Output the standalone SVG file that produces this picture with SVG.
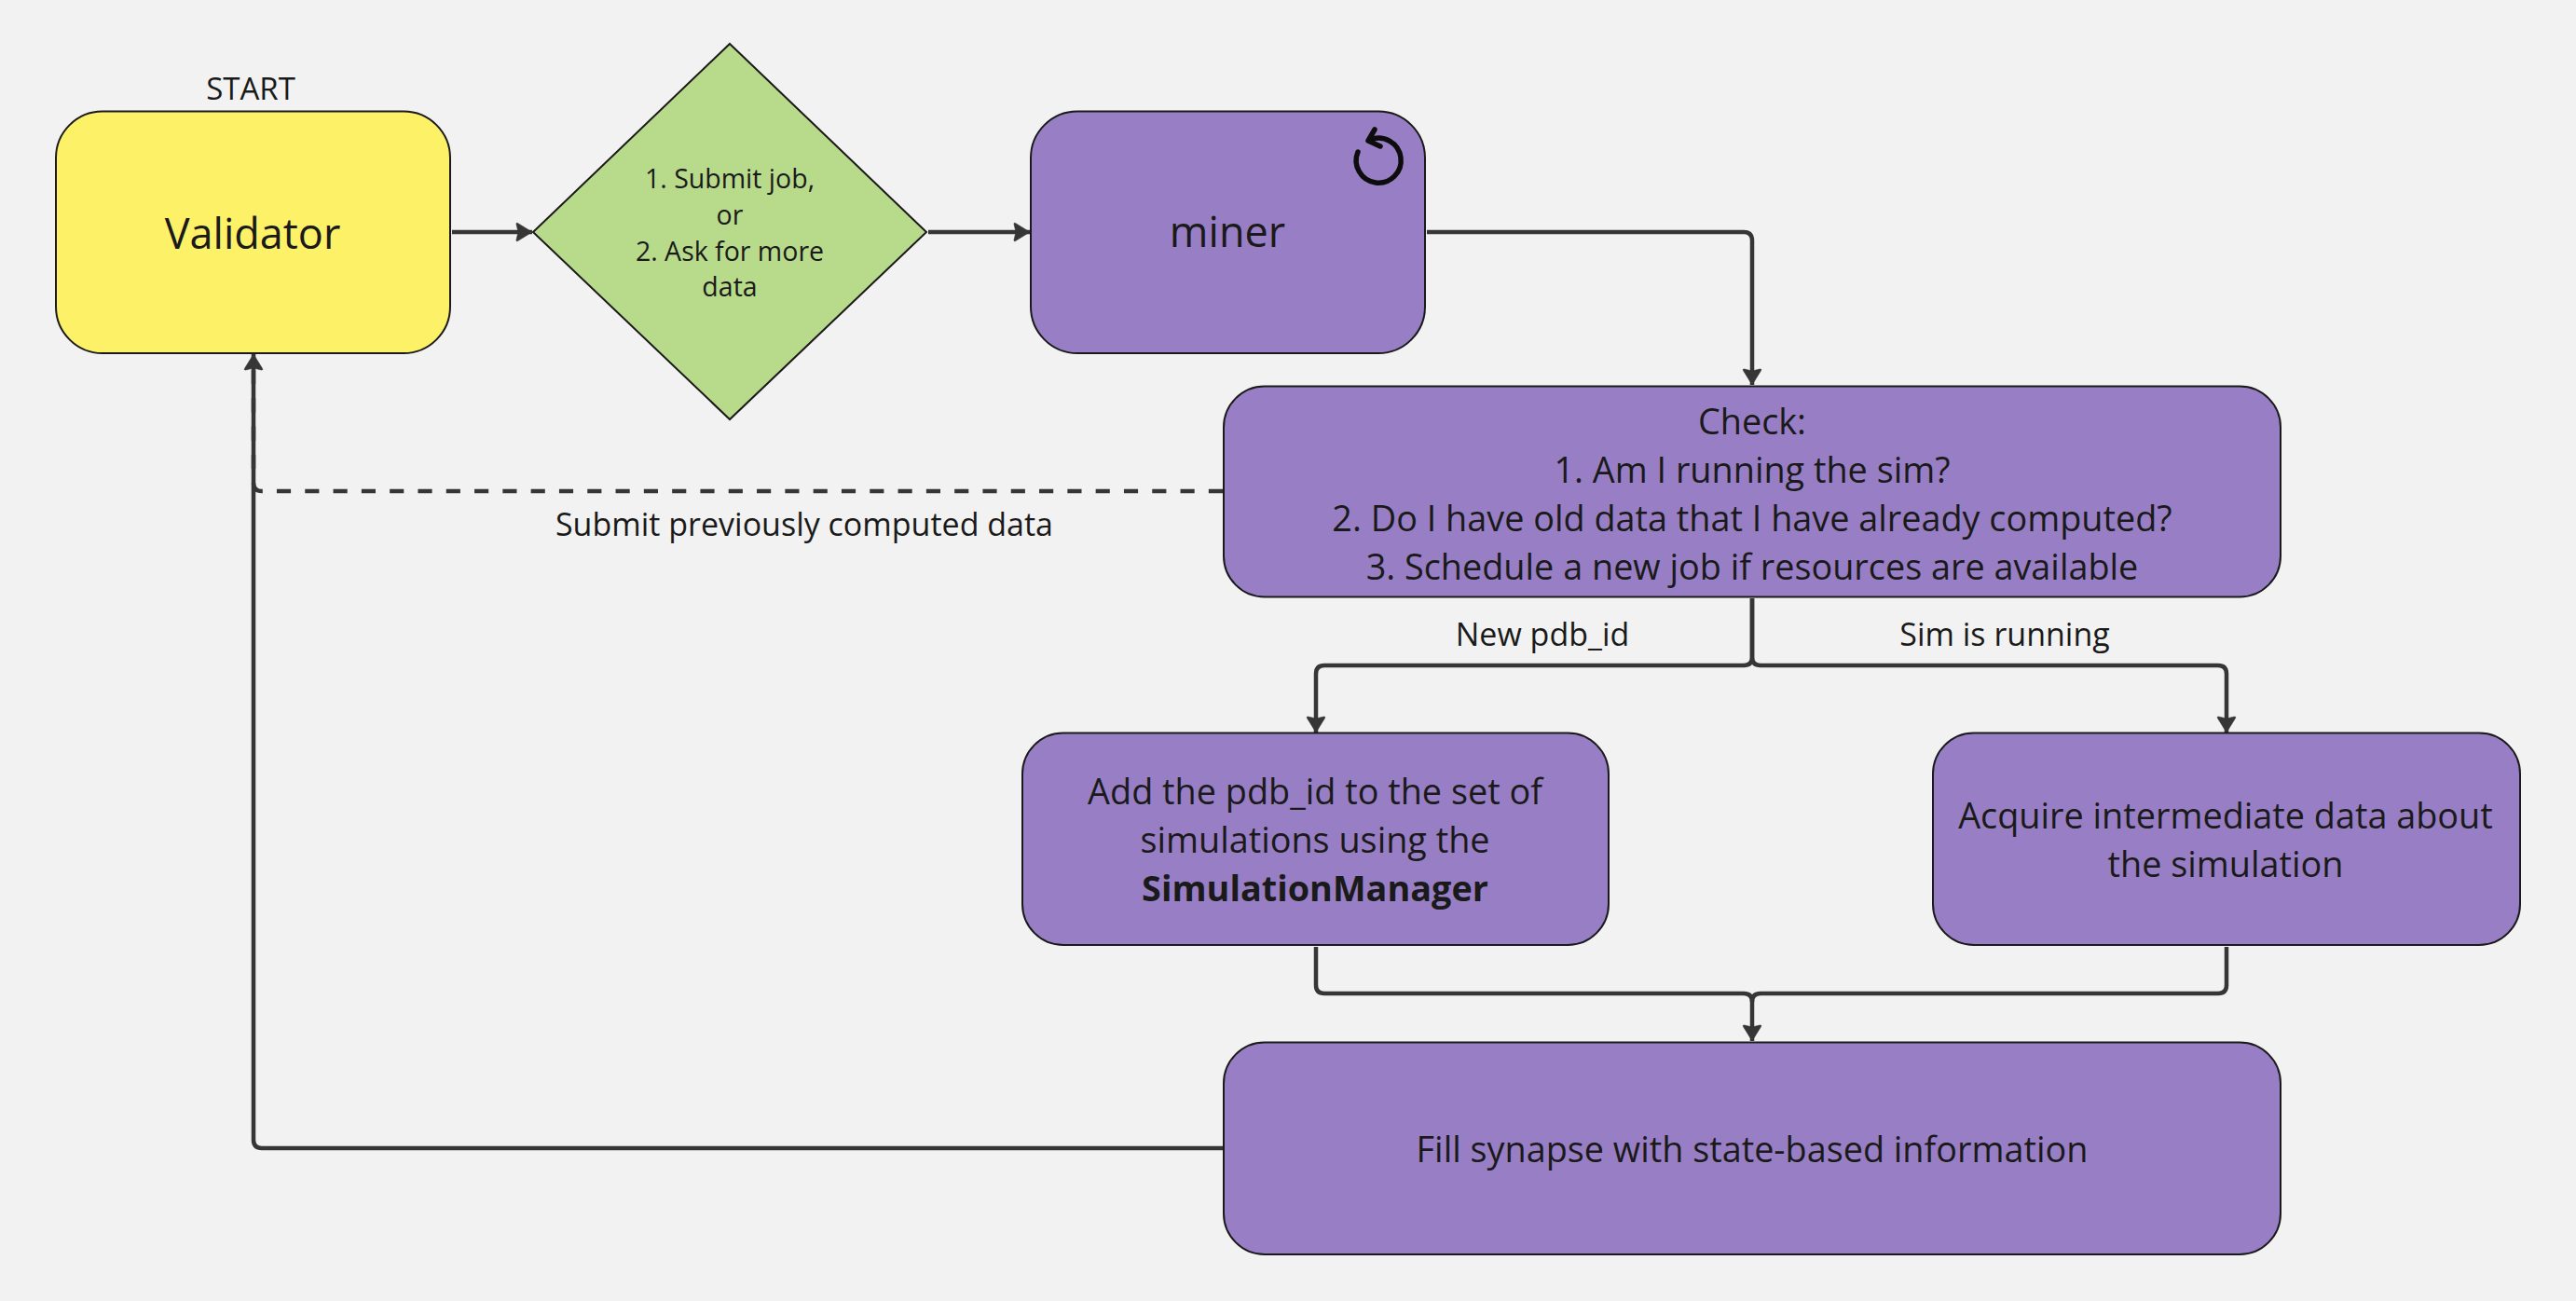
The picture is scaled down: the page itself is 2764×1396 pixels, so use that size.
<svg xmlns="http://www.w3.org/2000/svg" width="2764" height="1396" viewBox="0 0 2764 1396">
<defs>
<marker id="arrow" markerUnits="userSpaceOnUse" markerWidth="24" markerHeight="24" refX="20" refY="12" orient="auto">
<path d="M20 12 L4.5 2.4 Q2.6 1.6 3 3.6 L5 12 L3 20.4 Q2.6 22.4 4.5 21.6 Z" fill="#363636" stroke="#363636" stroke-width="0.6" stroke-linejoin="round"/>
</marker>
</defs>
<style>
text{font-family:"Open Sans","Noto Sans",sans-serif;fill:#1a1a1a;text-anchor:middle}
.n{stroke:#1a1a1a;stroke-width:2}
.p{fill:#987ec5}
.c{fill:none;stroke:#363636;stroke-width:4.5;stroke-linejoin:round}
.a{marker-end:url(#arrow)}
.t38{font-size:37.8px}.t34{font-size:34px}.t33{font-size:33px}.t28{font-size:28.5px}.t45{font-size:45px}
</style>
<rect width="2764" height="1396" fill="#f2f2f2"/>
<g id="connectors">
<path class="c a" d="M485 249 H571"/>
<path class="c a" d="M996 249 H1105"/>
<path class="c a" d="M1531 249 H1871 Q1880 249 1880 258 V413"/>
<path class="c" stroke-dasharray="15.15 15.15" d="M1312 527 H281 Q272 527 272 518 V382"/>
<path class="c a" d="M1312 1232 H281 Q272 1232 272 1223 V380"/>
<path class="c a" d="M1880 642 V705 Q1880 714 1871 714 H1421 Q1412 714 1412 723 V786"/>
<path class="c a" d="M1880 642 V705 Q1880 714 1889 714 H2380 Q2389 714 2389 723 V786"/>
<path class="c" d="M1412 1016 V1057 Q1412 1066 1421 1066 H1871 Q1880 1066 1880 1075"/>
<path class="c" d="M2389 1016 V1057 Q2389 1066 2380 1066 H1889 Q1880 1066 1880 1075"/>
<path class="c a" d="M1880 1075 V1117"/>
</g>
<g id="start-label"><text class="t33" x="269" y="107">START</text></g>
<g id="validator">
<rect class="n" x="60" y="119.500" width="423" height="259.500" rx="50" ry="50" fill="#fdf168"/>
<text class="t45" x="271" y="267">Validator</text>
</g>
<g id="decision">
<polygon class="n" points="783,47 994,249 783,450 572,249" fill="#b8da8b"/>
<text class="t28" x="783" y="202">1. Submit job,</text>
<text class="t28" x="783" y="241">or</text>
<text class="t28" x="783" y="280">2. Ask for more</text>
<text class="t28" x="783" y="318">data</text>
</g>
<g id="miner">
<rect class="n p" x="1106" y="119.500" width="423" height="259.500" rx="50" ry="50"/>
<text class="t45" x="1317" y="265">miner</text>
<g fill="none" stroke="#0d0d0d" stroke-width="5.5" stroke-linecap="round" stroke-linejoin="round">
<path d="M1457 163 A24 24 0 1 0 1470 150"/>
<path d="M1475 139 L1468 151 L1481 157"/>
</g>
</g>
<g id="check">
<rect class="n p" x="1313" y="414.500" width="1134" height="226" rx="44" ry="44"/>
<text class="t38" x="1880" y="466">Check:</text>
<text class="t38" x="1880" y="518">1. Am I running the sim?</text>
<text class="t38" x="1880" y="570">2. Do I have old data that I have already computed?</text>
<text class="t38" x="1880" y="622">3. Schedule a new job if resources are available</text>
</g>
<g id="label-submit"><text class="t34" x="863" y="575">Submit previously computed data</text></g>
<g id="label-new"><text class="t34" x="1655" y="693">New pdb_id</text></g>
<g id="label-running"><text class="t34" x="2151" y="693">Sim is running</text></g>
<g id="add">
<rect class="n p" x="1097" y="786.500" width="629" height="227.500" rx="44" ry="44"/>
<text class="t38" x="1411" y="863">Add the pdb_id to the set of</text>
<text class="t38" x="1411" y="915">simulations using the</text>
<text class="t38" x="1411" y="967" font-weight="700">SimulationManager</text>
</g>
<g id="acquire">
<rect class="n p" x="2074" y="786.500" width="630" height="227.500" rx="44" ry="44"/>
<text class="t38" x="2388" y="889">Acquire intermediate data about</text>
<text class="t38" x="2388" y="941">the simulation</text>
</g>
<g id="fill">
<rect class="n p" x="1313" y="1118.500" width="1134" height="227.500" rx="44" ry="44"/>
<text class="t38" x="1880" y="1247">Fill synapse with state-based information</text>
</g>
</svg>
